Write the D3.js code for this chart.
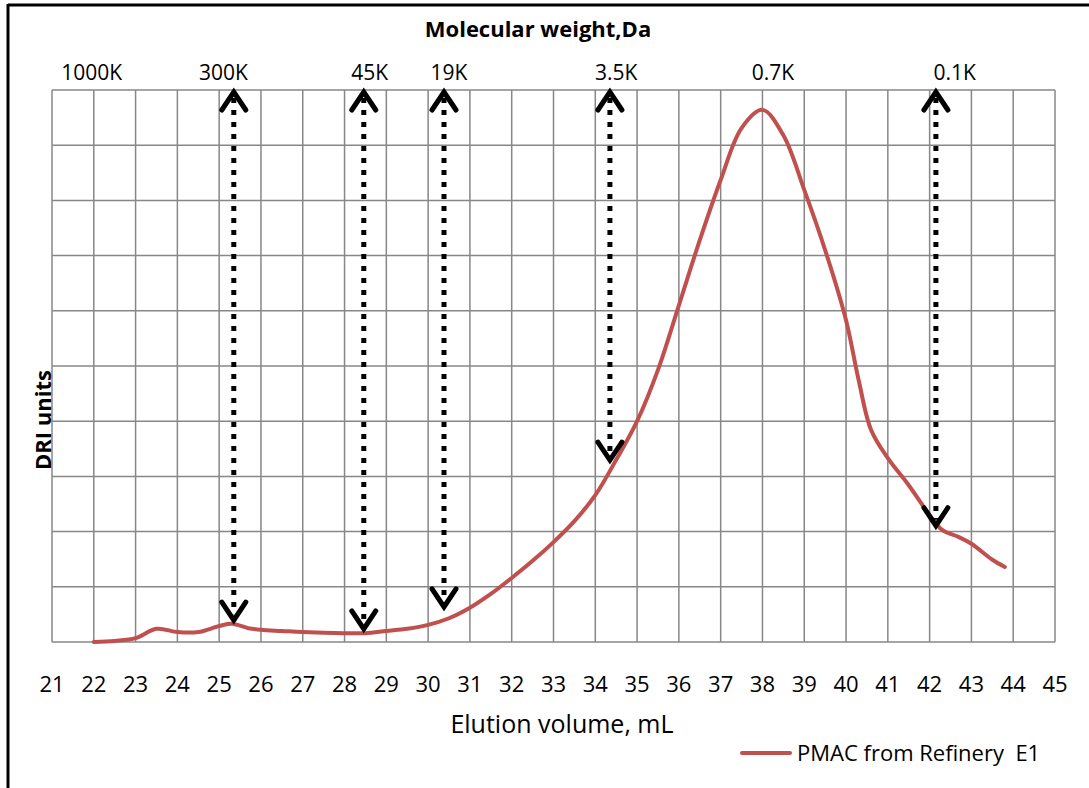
<!DOCTYPE html>
<html>
<head>
<meta charset="utf-8">
<script src="https://cdn.jsdelivr.net/npm/d3@7"></script>
<style>
  body { margin: 0; background: #fff; }
  text { font-family: "Open Sans", Lato, sans-serif; fill: #000; }
</style>
</head>
<body>
<div id="chart"></div>
<script>
// elution volume (mL) and detector response (grid units)
const volume = [22.0, 22.5, 23.0, 23.5, 24.0, 24.5, 25.0, 25.3, 25.7, 26.0, 26.5, 27.0, 28.0, 28.5,
  29.0, 29.5, 30.0, 30.5, 31.0, 31.5, 32.0, 32.5, 33.0, 33.5, 34.0, 34.5, 35.0, 35.5, 36.0, 36.5,
  37.0, 37.5, 38.0, 38.5, 39.0, 39.5, 40.0, 40.3, 40.6, 41.0, 41.5, 42.0, 42.3, 42.7, 43.0, 43.5, 43.8];
const response = [0.0, 0.02, 0.07, 0.24, 0.18, 0.18, 0.29, 0.33, 0.25, 0.22, 0.20, 0.18, 0.16, 0.16,
  0.20, 0.24, 0.31, 0.43, 0.62, 0.87, 1.16, 1.47, 1.81, 2.19, 2.66, 3.30, 4.0, 4.93, 6.1, 7.28,
  8.37, 9.31, 9.64, 9.18, 8.19, 7.1, 5.83, 4.75, 3.84, 3.33, 2.84, 2.30, 2.03, 1.90, 1.78, 1.49, 1.36];

const xTicks = d3.range(21, 46);

// molecular weight markers along the top
const mwLabels = ["1000K", "300K", "45K", "19K", "3.5K", "0.7K", "0.1K"];
const mwLabelPos = [21.95, 25.1, 28.6, 30.5, 34.5, 38.25, 42.6];

// double arrows: position and lower end
const arrowPos = [25.35, 28.46, 30.38, 34.35, 42.15];
const arrowBottom = [0.36, 0.2, 0.6, 3.26, 2.07];
const arrowTop = 10;

const seriesName = "PMAC from Refinery  E1";

const width = 1089, height = 788;
const svg = d3.select("#chart").append("svg")
  .attr("width", width).attr("height", height);

const x = d3.scaleLinear().domain([21, 45]).range([52, 1055]);
const y = d3.scaleLinear().domain([0, 10]).range([642, 90]);

// outer frame (top and left only visible)
svg.append("line").attr("x1", 8).attr("x2", width).attr("y1", 5).attr("y2", 5)
  .attr("stroke", "#000").attr("stroke-width", 3);
svg.append("line").attr("x1", 8).attr("x2", 8).attr("y1", 4).attr("y2", height)
  .attr("stroke", "#000").attr("stroke-width", 3);

// grid
const grid = svg.append("g").attr("stroke", "#878787").attr("stroke-width", 1.5);
grid.selectAll(".v").data(xTicks).enter().append("line")
  .attr("x1", d => x(d)).attr("x2", d => x(d))
  .attr("y1", y(10)).attr("y2", y(0));
grid.selectAll(".h").data(d3.range(0, 11)).enter().append("line")
  .attr("x1", x(21)).attr("x2", x(45))
  .attr("y1", d => y(d)).attr("y2", d => y(d));

// bottom tick labels
svg.append("g").selectAll("text").data(xTicks).enter().append("text")
  .attr("x", d => x(d)).attr("y", 692)
  .attr("text-anchor", "middle").attr("font-size", 22)
  .text(d => d);

svg.append("text").attr("x", 562).attr("y", 733)
  .attr("text-anchor", "middle").attr("font-size", 25)
  .text("Elution volume, mL");

// top labels
svg.append("text").attr("x", 538).attr("y", 37)
  .attr("text-anchor", "middle").attr("font-size", 22).attr("font-weight", "bold")
  .text("Molecular weight,Da");

svg.append("g").selectAll("text").data(mwLabels).enter().append("text")
  .attr("x", (d, i) => x(mwLabelPos[i])).attr("y", 80)
  .attr("text-anchor", "middle").attr("font-size", 21)
  .text(d => d);

// y title
svg.append("text")
  .attr("transform", "translate(51,420) rotate(-90)")
  .attr("text-anchor", "middle").attr("font-size", 22).attr("font-weight", "bold")
  .text("DRI units");

// trace
const line = d3.line().x((d, i) => x(volume[i])).y((d, i) => y(response[i]))
  .curve(d3.curveCatmullRom.alpha(0.5));
svg.append("path").datum(response)
  .attr("d", line)
  .attr("fill", "none").attr("stroke", "#C0504D").attr("stroke-width", 4)
  .attr("stroke-linejoin", "round").attr("stroke-linecap", "round");

// arrows
const arrows = svg.append("g").selectAll("g").data(arrowPos).enter().append("g");
arrows.append("line")
  .attr("x1", d => x(d)).attr("x2", d => x(d))
  .attr("y1", y(arrowTop) + 8).attr("y2", (d, i) => y(arrowBottom[i]) - 8)
  .attr("stroke", "#000").attr("stroke-width", 5).attr("stroke-dasharray", "5,7");
arrows.append("path")
  .attr("d", d => `M${x(d) - 12},${y(arrowTop) + 20}L${x(d)},${y(arrowTop) + 2}L${x(d) + 12},${y(arrowTop) + 20}`)
  .attr("fill", "none").attr("stroke", "#000").attr("stroke-width", 5)
  .attr("stroke-linejoin", "miter").attr("stroke-linecap", "round");
arrows.append("path")
  .attr("d", (d, i) => {
    const b = y(arrowBottom[i]);
    return `M${x(d) - 12},${b - 20}L${x(d)},${b - 2}L${x(d) + 12},${b - 20}`;
  })
  .attr("fill", "none").attr("stroke", "#000").attr("stroke-width", 5)
  .attr("stroke-linejoin", "miter").attr("stroke-linecap", "round");

// legend
svg.append("line").attr("x1", 742).attr("x2", 790).attr("y1", 753).attr("y2", 753)
  .attr("stroke", "#C0504D").attr("stroke-width", 4).attr("stroke-linecap", "round");
svg.append("text").attr("x", 797).attr("y", 761).attr("font-size", 22)
  .style("white-space", "pre")
  .text(seriesName);
</script>
</body>
</html>
